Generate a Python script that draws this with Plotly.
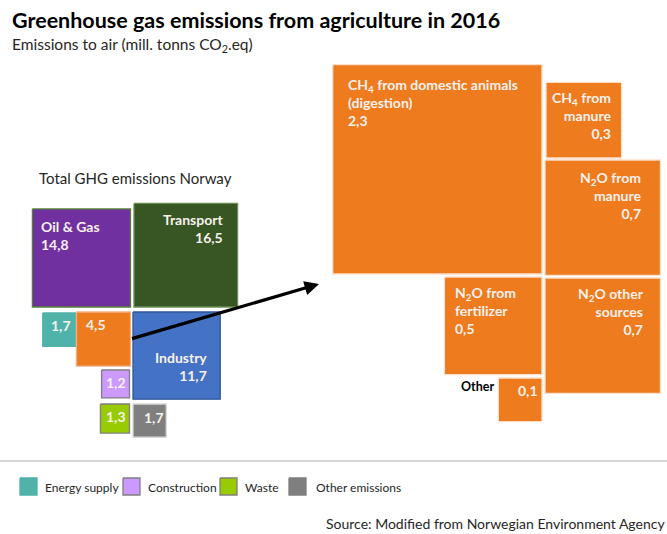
import math
import plotly.graph_objects as go

W, H = 667, 534
FONT = "Lato, 'Open Sans', sans-serif"

# Total GHG emissions in Norway 2016 by sector (mill. tonnes CO2-eq)
sectors = ["Oil & Gas", "Transport", "Energy supply", "Agriculture",
           "Industry", "Construction", "Waste", "Other emissions"]
sector_values = [14.8, 16.5, 1.7, 4.5, 11.7, 1.2, 1.3, 1.7]
sector_names_shown = ["Oil & Gas", "Transport", "", "", "Industry", "", "", ""]

# Agriculture emissions broken down by source (mill. tonnes CO2-eq)
agri_sources = ["CH4 from domestic animals (digestion)", "CH4 from manure",
                "N2O from manure", "N2O from fertilizer", "N2O other sources", "Other"]
agri_values = [2.3, 0.3, 0.7, 0.5, 0.7, 0.1]
agri_names_shown = ["CH<sub>4</sub> from domestic animals<br>(digestion)",
                    "CH<sub>4</sub> from<br>manure",
                    "N<sub>2</sub>O from<br>manure",
                    "N<sub>2</sub>O from<br>fertilizer",
                    "N<sub>2</sub>O other<br>sources",
                    ""]

legend_items = ["Energy supply", "Construction", "Waste", "Other emissions"]

# ---- layout of the square tiles (area proportional to value) ----
K_SECTOR = 25.5   # px per sqrt(mill. tonnes), national overview
K_AGRI = 138.0    # px per sqrt(mill. tonnes), agriculture detail

ORANGE = "#ee7b1e"
sector_style = {
    # corner, anchor point, fill, edge, text align, pad x, pad y
    "Oil & Gas":       ("br", (130.5, 307), "#7030a0", "#548235", "left", 7, 7),
    "Transport":       ("bl", (134, 307), "#375623", "#6a8c55", "right", 13, 6),
    "Energy supply":   ("tr", (76, 313), "#4fb3a9", "#4fb3a9", "left", 6, 2),
    "Agriculture":     ("tr", (130.5, 312), ORANGE, "#f4b183", "left", 8, 2),
    "Industry":        ("tl", (133, 312), "#4472c4", "#2f5597", "right", 11, 35),
    "Construction":    ("tr", (129.5, 370), "#cc99ff", "#7f7f7f", "right", 2, 2),
    "Waste":           ("tr", (129.5, 404), "#99cc00", "#7f7f7f", "right", 2, 2),
    "Other emissions": ("tl", (133, 404), "#7f7f7f", "#d9d9d9", "left", 9, 3),
}
agri_style = {
    "CH4 from domestic animals (digestion)": ("br", (542, 274), "left", 13, 9),
    "CH4 from manure":   ("bl", (546, 158), "right", 9, 5),
    "N2O from manure":   ("tl", (545, 160), "right", 16, 7),
    "N2O from fertilizer": ("tr", (542, 277), "left", 9, 5),
    "N2O other sources": ("tl", (545, 278), "right", 14, 5),
    "Other":             ("tr", (542, 378), "right", 2, 2),
}


def square(value, k, corner, point):
    s = k * math.sqrt(value)
    px, py = point
    x0 = px - s if corner[1] == "r" else px
    y0 = py - s if corner[0] == "b" else py
    return x0, x0 + s, y0, y0 + s


def fmt(v):
    return f"{v:.1f}".replace(".", ",")


fig = go.Figure()
annotations = []


def add_tile(box, fill, edge, label, value, align, padx, pady, size=14):
    x0, x1, y0, y1 = box
    fig.add_trace(go.Scatter(
        x=[x0, x1, x1, x0, x0], y=[y0, y0, y1, y1, y0],
        mode="lines", fill="toself", fillcolor=fill,
        line=dict(color=edge, width=1.3), hoverinfo="skip"))
    text = f"<b>{label}<br>{fmt(value)}</b>" if label else f"<b>{fmt(value)}</b>"
    annotations.append(dict(
        x=x0 + padx if align == "left" else x1 - padx, y=y0 + pady,
        xanchor=align, yanchor="top", align=align, showarrow=False,
        text=text, font=dict(family=FONT, size=size, color="#f7f1ee")))


boxes = {}
for name, val, shown in zip(sectors, sector_values, sector_names_shown):
    corner, pt, fill, edge, align, px, py = sector_style[name]
    b = square(val, K_SECTOR, corner, pt)
    boxes[name] = b
    add_tile(b, fill, edge, shown, val, align, px, py)

for name, val, shown in zip(agri_sources, agri_values, agri_names_shown):
    corner, pt, align, px, py = agri_style[name]
    b = square(val, K_AGRI, corner, pt)
    boxes[name] = b
    add_tile(b, ORANGE, "#fbe0cc", shown, val, align, px, py)

# label beside the smallest agriculture tile
ox0, ox1, oy0, oy1 = boxes["Other"]
annotations.append(dict(x=ox0 - 2, y=oy0 - 1, xanchor="right", yanchor="top",
                        showarrow=False, text="<b>Other</b>",
                        font=dict(family=FONT, size=12.5, color="#000000")))

# arrow from the agriculture tile to its breakdown
ax0, ax1, ay0, ay1 = boxes["Agriculture"]
annotations.append(dict(x=319, y=284, ax=ax1, ay=(ay0 + ay1) / 2,
                        xref="x", yref="y", axref="x", ayref="y",
                        showarrow=True, arrowhead=2, arrowsize=0.9,
                        arrowwidth=3.2, arrowcolor="#000000", text=""))

# titles
annotations += [
    dict(x=10, y=20, xanchor="left", yanchor="middle", showarrow=False,
         text="<b>Greenhouse gas emissions from agriculture in 2016</b>",
         font=dict(family=FONT, size=21.5, color="#000000")),
    dict(x=10, y=45, xanchor="left", yanchor="middle", showarrow=False,
         text="Emissions to air (mill. tonns CO<sub>2</sub>.eq)",
         font=dict(family=FONT, size=15.5, color="#262626")),
    dict(x=37, y=178, xanchor="left", yanchor="middle", showarrow=False,
         text="Total GHG emissions Norway",
         font=dict(family=FONT, size=15, color="#262626")),
    dict(x=1.0, xref="paper", y=523, xanchor="right", yanchor="middle",
         showarrow=False,
         text="Source: Modified from Norwegian Environment Agency",
         font=dict(family=FONT, size=14, color="#262626")),
]

# separator line above the legend
fig.add_trace(go.Scatter(x=[0, W], y=[461, 461], mode="lines",
                         line=dict(color="#c8c8c8", width=1.5), hoverinfo="skip"))

# legend for the small sectors
legend_x = [20, 123, 220, 289]
for item, lx in zip(legend_items, legend_x):
    _, _, fill, edge, _, _, _ = sector_style[item]
    e = edge if item in ("Construction", "Waste") else fill
    fig.add_trace(go.Scatter(
        x=[lx, lx + 17, lx + 17, lx, lx], y=[478, 478, 495, 495, 478],
        mode="lines", fill="toself", fillcolor=fill,
        line=dict(color=e, width=1.3), hoverinfo="skip"))
    annotations.append(dict(x=lx + (23 if item != "Other emissions" else 25), y=487,
                            xanchor="left", yanchor="middle", showarrow=False,
                            text=item, font=dict(family=FONT, size=12, color="#262626")))

fig.update_layout(
    width=W, height=H, margin=dict(l=0, r=0, t=0, b=0),
    paper_bgcolor="white", plot_bgcolor="white", showlegend=False,
    xaxis=dict(range=[0, W], visible=False, fixedrange=True),
    yaxis=dict(range=[H, 0], visible=False, fixedrange=True),
    annotations=annotations,
)

fig.write_html("out.html")
